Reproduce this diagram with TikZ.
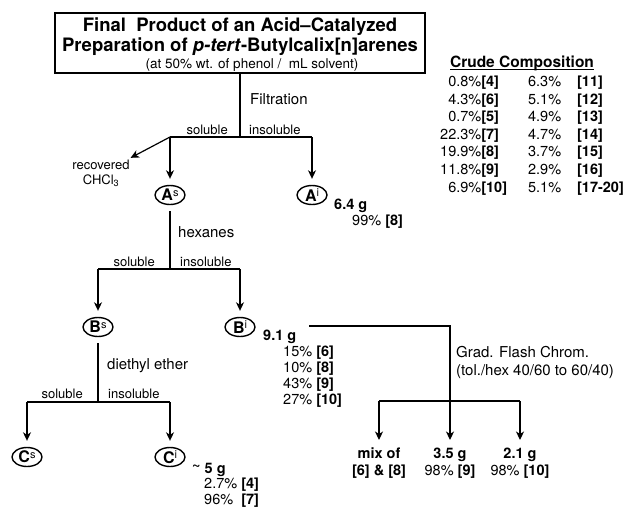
\documentclass[tikz,border=0pt]{standalone}
\usepackage{fontspec}
\setmainfont{TeX Gyre Heros}
\usetikzlibrary{arrows.meta,shapes.geometric}
\newcommand\lft[1]{\begin{tabular}[t]{@{}l@{}}#1\end{tabular}}
\newcommand\ctr[1]{\begin{tabular}[t]{@{}c@{}}#1\end{tabular}}
\newcommand\fs[2]{\fontsize{#1}{#2}\selectfont}
\newcommand\ovl[2]{\textbf{#1}\raisebox{4.5pt}{\fs{11}{11}#2}}
\begin{document}
\begin{tikzpicture}[x=1pt,y=-1pt,
  conn/.style={line width=1.2pt},
  arr/.style={conn,-{Stealth[length=8.5pt,width=8pt,inset=2.5pt]},shorten >=6pt},
  oval/.style={draw,ellipse,line width=1.4pt,minimum width=30pt,minimum height=19pt,inner sep=0pt,font=\fs{16}{16}},
  txt/.style={inner sep=0pt,font=\fs{15}{18}},
  sol/.style={inner sep=0pt,font=\fs{13}{15}},
  dat/.style={inner sep=0pt,font=\fs{14.5}{16}},
]
\useasboundingbox (0,0) rectangle (628,508);

% title
\node[draw,line width=1.3pt,minimum width=370pt,minimum height=60pt,inner sep=0pt,font=\bfseries\fs{18.5}{20}] (title) at (240,43)
  {\raisebox{-3pt}[\height][\depth]{\begin{tabular}{@{}c@{}}Final\ \ Product of an Acid–Catalyzed\\Preparation of \textit{p-tert}-Butylcalix[n]arenes\\[-3pt]{\mdseries\fs{13.5}{15}\hspace*{24pt}(at 50\% wt. of phenol /\ \ mL solvent)}\end{tabular}}};

% level 1
\coordinate (j1) at (240,137);
\coordinate (j1l) at (170,137);
\coordinate (j1r) at (312,137);
\draw[conn] (title.south) -- (j1);
\draw[conn] (j1l) -- (j1r);
\node[oval] (As) at (170,195) {\ovl{A}{s}};
\node[oval] (Ai) at (312,195) {\ovl{A}{i}};
\draw[arr] (j1l) -- (As);
\draw[arr] (j1r) -- (Ai);
\node[sol,anchor=base] (rec) at (101,169) {\ctr{recovered\\CHCl\textsubscript{3}}};
\draw[arr,shorten >=1pt] (j1l) -- (rec.north east);
\node[txt,anchor=base west] (filt) at (250,105) {Filtration};
\node[sol,anchor=base east] (s1) at (228,134) {soluble};
\node[sol,anchor=base west] (i1) at (249,134) {insoluble};
\node[dat,anchor=base west] (aid) at (334,209) {\lft{\textbf{6.4 g}\\\hspace*{18pt}99\% \textbf{[8]}}};

% level 2
\coordinate (j2) at (170,269);
\coordinate (j2l) at (98,269);
\coordinate (j2r) at (240,269);
\draw[conn,shorten <=6pt] (As) -- (j2);
\draw[conn] (j2l) -- (j2r);
\node[oval] (Bs) at (98,327) {\ovl{B}{s}};
\node[oval] (Bi) at (240,327) {\ovl{B}{i}};
\draw[arr] (j2l) -- (Bs);
\draw[arr] (j2r) -- (Bi);
\node[txt,anchor=base west] (hex) at (178,237) {hexanes};
\node[sol,anchor=base east] (s2) at (155,266) {soluble};
\node[sol,anchor=base west] (i2) at (180,266) {insoluble};
\node[dat,anchor=base west] (bid) at (263,340) {\lft{\textbf{9.1 g}\\\hspace*{20pt}15\% \textbf{[6]}\\\hspace*{20pt}10\% \textbf{[8]}\\\hspace*{20pt}43\% \textbf{[9]}\\\hspace*{20pt}27\% \textbf{[10]}}};

% level 3
\coordinate (j3) at (98,402);
\coordinate (j3l) at (27,402);
\coordinate (j3r) at (170,402);
\draw[conn,shorten <=6pt] (Bs) -- (j3);
\draw[conn] (j3l) -- (j3r);
\node[oval] (Cs) at (27,457) {\ovl{C}{s}};
\node[oval] (Ci) at (170,457) {\ovl{C}{i}};
\draw[arr] (j3l) -- (Cs);
\draw[arr] (j3r) -- (Ci);
\node[txt,anchor=base west] (eth) at (107,369) {diethyl ether};
\node[sol,anchor=base east] (s3) at (83,398) {soluble};
\node[sol,anchor=base west] (i3) at (108,398) {insoluble};
\node[dat,font=\fs{14.5}{15.5},anchor=base west] (cid) at (192,473) {\lft{\textbf{\raisebox{4pt}{\textasciitilde}\ 5 g}\\\hspace*{12pt}2.7\% \textbf{[4]}\\\hspace*{12pt}96\%\ \ \textbf{[7]}}};

% chromatography
\coordinate (k0) at (309,326);
\coordinate (k1) at (450,326);
\coordinate (k2l) at (379,401);
\coordinate (k2r) at (520,401);
\node[dat,font=\fs{14.5}{17},anchor=north] (mix) at (379,446) {\ctr{\textbf{mix of}\\\textbf{[6] \& [8]}}};
\node[dat,font=\fs{14.5}{17},anchor=north] (n35) at (450,446) {\ctr{\textbf{3.5 g}\\98\% \textbf{[9]}}};
\node[dat,font=\fs{14.5}{17},anchor=north] (n21) at (520,446) {\ctr{\textbf{2.1 g}\\98\% \textbf{[10]}}};
\draw[arr] (k0) -- (k1) -- (n35);
\draw[conn] (k2l) -- (k2r);
\draw[arr] (k2l) -- (mix);
\draw[arr] (k2r) -- (n21);
\node[txt,anchor=base west] (grad) at (456,357) {\lft{Grad. Flash Chrom.\\(tol./hex 40/60 to 60/40)}};

% crude composition
\node[inner sep=0pt,font=\bfseries\fs{15.5}{18},anchor=base] (crudeh) at (522,68) {\underline{\smash{Crude Composition}}};
\node[inner sep=0pt,font=\fs{14.5}{17.5},anchor=base west] (crude) at (440,87) {\begin{tabular}[t]{@{}r@{}l@{\hspace{21pt}}l@{\hspace{16pt}}l@{}}
0.8\%&\textbf{[4]}&6.3\%&\textbf{[11]}\\
4.3\%&\textbf{[6]}&5.1\%&\textbf{[12]}\\
0.7\%&\textbf{[5]}&4.9\%&\textbf{[13]}\\
22.3\%&\textbf{[7]}&4.7\%&\textbf{[14]}\\
19.9\%&\textbf{[8]}&3.7\%&\textbf{[15]}\\
11.8\%&\textbf{[9]}&2.9\%&\textbf{[16]}\\
6.9\%&\textbf{[10]}&5.1\%&\textbf{[17-20]}
\end{tabular}};
\end{tikzpicture}
\end{document}
